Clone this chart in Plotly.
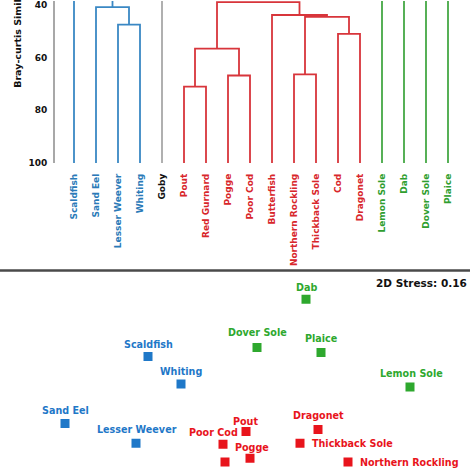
import plotly.graph_objects as go

# ---------------- Data: dendrogram (Bray-Curtis similarity) ----------------
leaves = ["Scaldfish", "Sand Eel", "Lesser Weever", "Whiting", "Goby",
          "Pout", "Red Gurnard", "Pogge", "Poor Cod", "Butterfish",
          "Northern Rockling", "Thickback Sole", "Cod", "Dragonet",
          "Lemon Sole", "Dab", "Dover Sole", "Plaice"]
leaf_group = ["blue"] * 4 + ["gray"] + ["red"] * 9 + ["green"] * 4

# merges: (left member, right member, similarity, new node name)
merges = [
    ("Lesser Weever", "Whiting", 47.5, "B1"),
    ("Sand Eel", "B1", 40.8, "B2"),
    ("Scaldfish", "B2", 30.0, "B3"),
    ("Pout", "Red Gurnard", 71.0, "R1"),
    ("Pogge", "Poor Cod", 66.8, "R2"),
    ("R1", "R2", 56.6, "R3"),
    ("Northern Rockling", "Thickback Sole", 66.4, "R4"),
    ("Cod", "Dragonet", 51.0, "R5"),
    ("R4", "R5", 44.5, "R6"),
    ("Butterfish", "R6", 43.8, "R7"),
    ("R3", "R7", 38.9, "R8"),
    ("Lemon Sole", "Dab", 30.0, "G1"),
    ("Dover Sole", "Plaice", 30.0, "G2"),
]
merge_group = ["blue"] * 3 + ["red"] * 8 + ["green"] * 2
goby_stem_top = 20.0

sim_ticks = [40, 60, 80, 100]

# ---------------- Data: 2D nMDS ordination ----------------
species = ["Scaldfish", "Whiting", "Sand Eel", "Lesser Weever",
           "Pout", "Poor Cod", "Pogge", "Red Gurnard",
           "Dragonet", "Thickback Sole", "Northern Rockling",
           "Dab", "Dover Sole", "Plaice", "Lemon Sole"]
mds1 = [-0.89, -0.56, -1.72, -1.01, 0.09, -0.14, 0.13, -0.12,
        0.81, 0.63, 1.11, 0.69, 0.20, 0.84, 1.73]
mds2 = [0.14, -0.14, -0.54, -0.74, -0.62, -0.75, -0.89, -0.93,
        -0.60, -0.74, -0.93, 0.72, 0.23, 0.18, -0.17]
sp_group = ["blue"] * 4 + ["red"] * 7 + ["green"] * 4
stress = 0.16

# ---------------- Styles ----------------
line_col = {"blue": "#3a88c4", "red": "#d8353b", "green": "#45a845", "gray": "#a8a8a8"}
text_col = {"blue": "#2a7ab8", "red": "#d8262b", "green": "#2f9e2f", "gray": "#111111"}
mark_col = {"blue": "#1f78c8", "red": "#e8141c", "green": "#2ea82e"}
FONT = "DejaVu Sans"

# label placement (pixel shifts) for ordination labels; None = label below the frame
label_place = {
    "Scaldfish": (0, 12, "center"), "Whiting": (0, 13, "center"),
    "Sand Eel": (0, 13, "center"), "Lesser Weever": (1, 14, "center"),
    "Pout": (-1, 10, "center"), "Poor Cod": (-10, 12, "center"),
    "Pogge": (2, 11, "center"), "Red Gurnard": None,
    "Dragonet": (0, 14, "center"), "Thickback Sole": (10, 0, "left"),
    "Northern Rockling": (10, 0, "left"), "Dab": (0, 12, "center"),
    "Dover Sole": (0, 15, "center"), "Plaice": (0, 14, "center"),
    "Lemon Sole": (1, 14, "center"),
}

fig = go.Figure()

# ---- dendrogram links ----
pos = {n: i for i, n in enumerate(leaves)}
hgt = {n: 100.0 for n in leaves}
for (a, b, h, name), g in zip(merges, merge_group):
    xa, xb = pos[a], pos[b]
    fig.add_trace(go.Scatter(x=[xa, xa, xb, xb], y=[hgt[a], h, h, hgt[b]],
                             mode="lines", line=dict(color=line_col[g], width=1.8),
                             hoverinfo="skip", showlegend=False, xaxis="x", yaxis="y"))
    pos[name] = (xa + xb) / 2
    hgt[name] = h
gi = leaves.index("Goby")
fig.add_trace(go.Scatter(x=[gi, gi], y=[100, goby_stem_top], mode="lines",
                         line=dict(color=line_col["gray"], width=1.8),
                         hoverinfo="skip", showlegend=False, xaxis="x", yaxis="y"))

# ---- ordination points ----
for g in ["blue", "red", "green"]:
    idx = [i for i, s in enumerate(sp_group) if s == g]
    fig.add_trace(go.Scatter(x=[mds1[i] for i in idx], y=[mds2[i] for i in idx],
                             mode="markers",
                             marker=dict(symbol="square", size=9, color=mark_col[g]),
                             hoverinfo="skip", showlegend=False, xaxis="x2", yaxis="y2"))

annotations = []
for s, x, y, g in zip(species, mds1, mds2, sp_group):
    place = label_place[s]
    if place is None:
        continue
    dx, dy, anc = place
    annotations.append(dict(x=x, y=y, xref="x2", yref="y2", text=s, showarrow=False,
                            xanchor=anc, yanchor="middle", xshift=dx, yshift=dy,
                            font=dict(family=FONT, size=9.6, color=mark_col[g], weight="bold")))

annotations.append(dict(x=469 / 474, y=1 - 286 / 474, xref="paper", yref="paper",
                        text=f"2D Stress: {stress:.2f}", showarrow=False,
                        xanchor="right", yanchor="middle",
                        font=dict(family=FONT, size=10.5, color="#111111", weight="bold")))
annotations.append(dict(x=18 / 474, y=1 - 90 / 474, xref="paper", yref="paper",
                        text="Bray-curtis Similarity", showarrow=False, textangle=-90,
                        xanchor="center", yanchor="bottom",
                        font=dict(family=FONT, size=9.5, color="#111111", weight="bold")))

ticktext = [f'<span style="color:{text_col[g]}">{n}</span>' for n, g in zip(leaves, leaf_group)]

W = 474
fig.update_layout(
    width=W, height=W, margin=dict(l=0, r=0, t=0, b=0),
    paper_bgcolor="white", plot_bgcolor="white",
    font=dict(family=FONT, color="#111111"),
    xaxis=dict(domain=[55 / W, 1], range=[-19 / 22, -19 / 22 + (W - 55) / 22],
               tickmode="array", tickvals=list(range(len(leaves))), ticktext=ticktext,
               tickangle=-90, ticks="", showgrid=False, zeroline=False, showline=False,
               ticklabelstandoff=8,
               tickfont=dict(family=FONT, size=9, weight="bold"), anchor="y"),
    yaxis=dict(domain=[1 - 164 / W, 1], range=[100, 40 - 4 / 2.65],
               tickmode="array", tickvals=sim_ticks, ticks="", showgrid=False,
               zeroline=False, showline=True, linecolor="#a8a8a8", linewidth=2,
               ticklabelstandoff=4, ticklabeloverflow="allow",
               tickfont=dict(family=FONT, size=9, weight="bold", color="#111111"),
               anchor="x"),
    xaxis2=dict(domain=[0, 1], range=[-2.37, 2.37], visible=False, anchor="y2"),
    yaxis2=dict(domain=[0, 0.43], range=[-1.0, 1.038], visible=False, anchor="x2"),
    annotations=annotations,
    shapes=[dict(type="line", xref="paper", yref="paper", x0=0, x1=470 / W,
                 y0=1 - 273 / W, y1=1 - 273 / W,
                 line=dict(color="#4a4a4a", width=2.5))],
)

fig.write_html("out.html",
               config={"displayModeBar": False},
               post_script="document.body.style.margin='0';"
                           "document.body.style.overflow='hidden';")
